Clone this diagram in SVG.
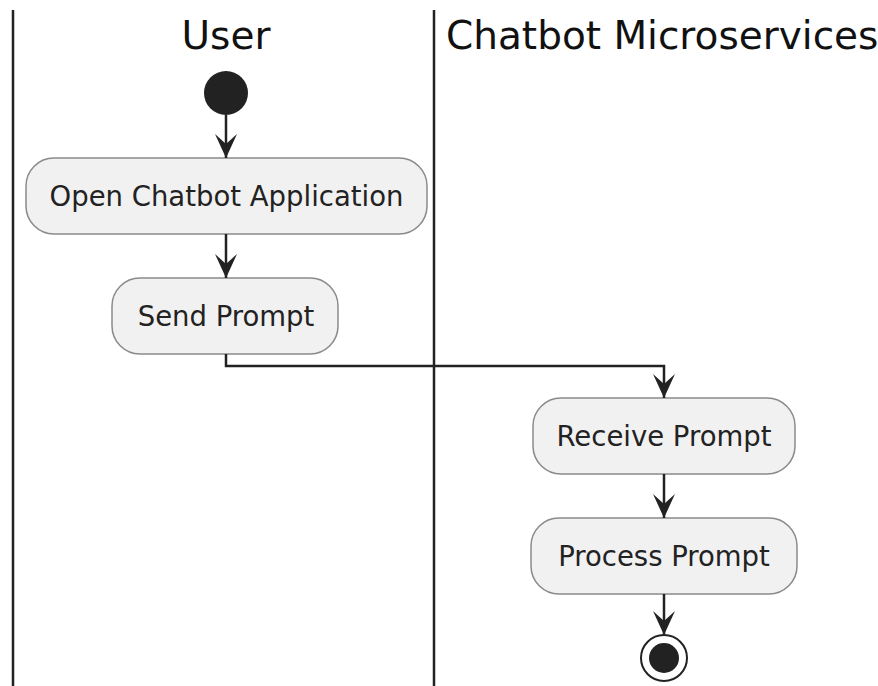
<svg xmlns="http://www.w3.org/2000/svg" width="878" height="686" viewBox="0 0 878 686">
  <style>
    .lane { stroke: #222; stroke-width: 2.5; fill: none; }
    .title { font-family: "DejaVu Sans", sans-serif; font-size: 39px; fill: #111; }
    .act { fill: #F1F1F1; stroke: #8a8a8a; stroke-width: 1.5; }
    .label { font-family: "DejaVu Sans", sans-serif; font-size: 27.5px; fill: #222; text-anchor: middle; }
    .flow { stroke: #222; stroke-width: 2.5; fill: none; }
    .head { fill: #222; }
  </style>
  <defs>
    <marker id="arrow" viewBox="0 0 24 24" refX="24" refY="12" markerWidth="24" markerHeight="24" markerUnits="userSpaceOnUse" orient="auto">
      <path class="head" d="M24 12 L0 1 L10 12 L0 23 Z"/>
    </marker>
  </defs>
  <rect width="878" height="686" fill="#fff"/>

  <!-- swimlanes -->
  <g id="lanes">
    <line class="lane" x1="13" y1="10" x2="13" y2="686"/>
    <line class="lane" x1="434" y1="10" x2="434" y2="686"/>
    <text class="title" x="226" y="49" text-anchor="middle">User</text>
    <text class="title" x="446" y="49">Chatbot Microservices</text>
  </g>

  <g id="start">
    <circle cx="226" cy="93" r="22" fill="#222"/>
  </g>

  <g id="open-app">
    <rect class="act" x="26" y="158" width="401" height="76" rx="28"/>
    <text class="label" x="226.5" y="206">Open Chatbot Application</text>
  </g>

  <g id="send-prompt">
    <rect class="act" x="112" y="278" width="226" height="76" rx="28"/>
    <text class="label" x="226" y="326">Send Prompt</text>
  </g>

  <g id="receive-prompt">
    <rect class="act" x="533" y="398" width="262" height="76" rx="28"/>
    <text class="label" x="664" y="446">Receive Prompt</text>
  </g>

  <g id="process-prompt">
    <rect class="act" x="531" y="518" width="266" height="76" rx="28"/>
    <text class="label" x="664" y="566">Process Prompt</text>
  </g>

  <g id="end">
    <circle cx="664" cy="658" r="23" fill="#fff" stroke="#222" stroke-width="2"/>
    <circle cx="664" cy="658" r="15" fill="#222"/>
  </g>

  <!-- control flow -->
  <g id="connectors">
    <path class="flow" d="M226 115 V158" marker-end="url(#arrow)"/>
    <path class="flow" d="M226 234 V278" marker-end="url(#arrow)"/>
    <path class="flow" d="M226 354 V366 H664 V398" marker-end="url(#arrow)"/>
    <path class="flow" d="M664 474 V518" marker-end="url(#arrow)"/>
    <path class="flow" d="M664 594 V635" marker-end="url(#arrow)"/>
  </g>
</svg>
